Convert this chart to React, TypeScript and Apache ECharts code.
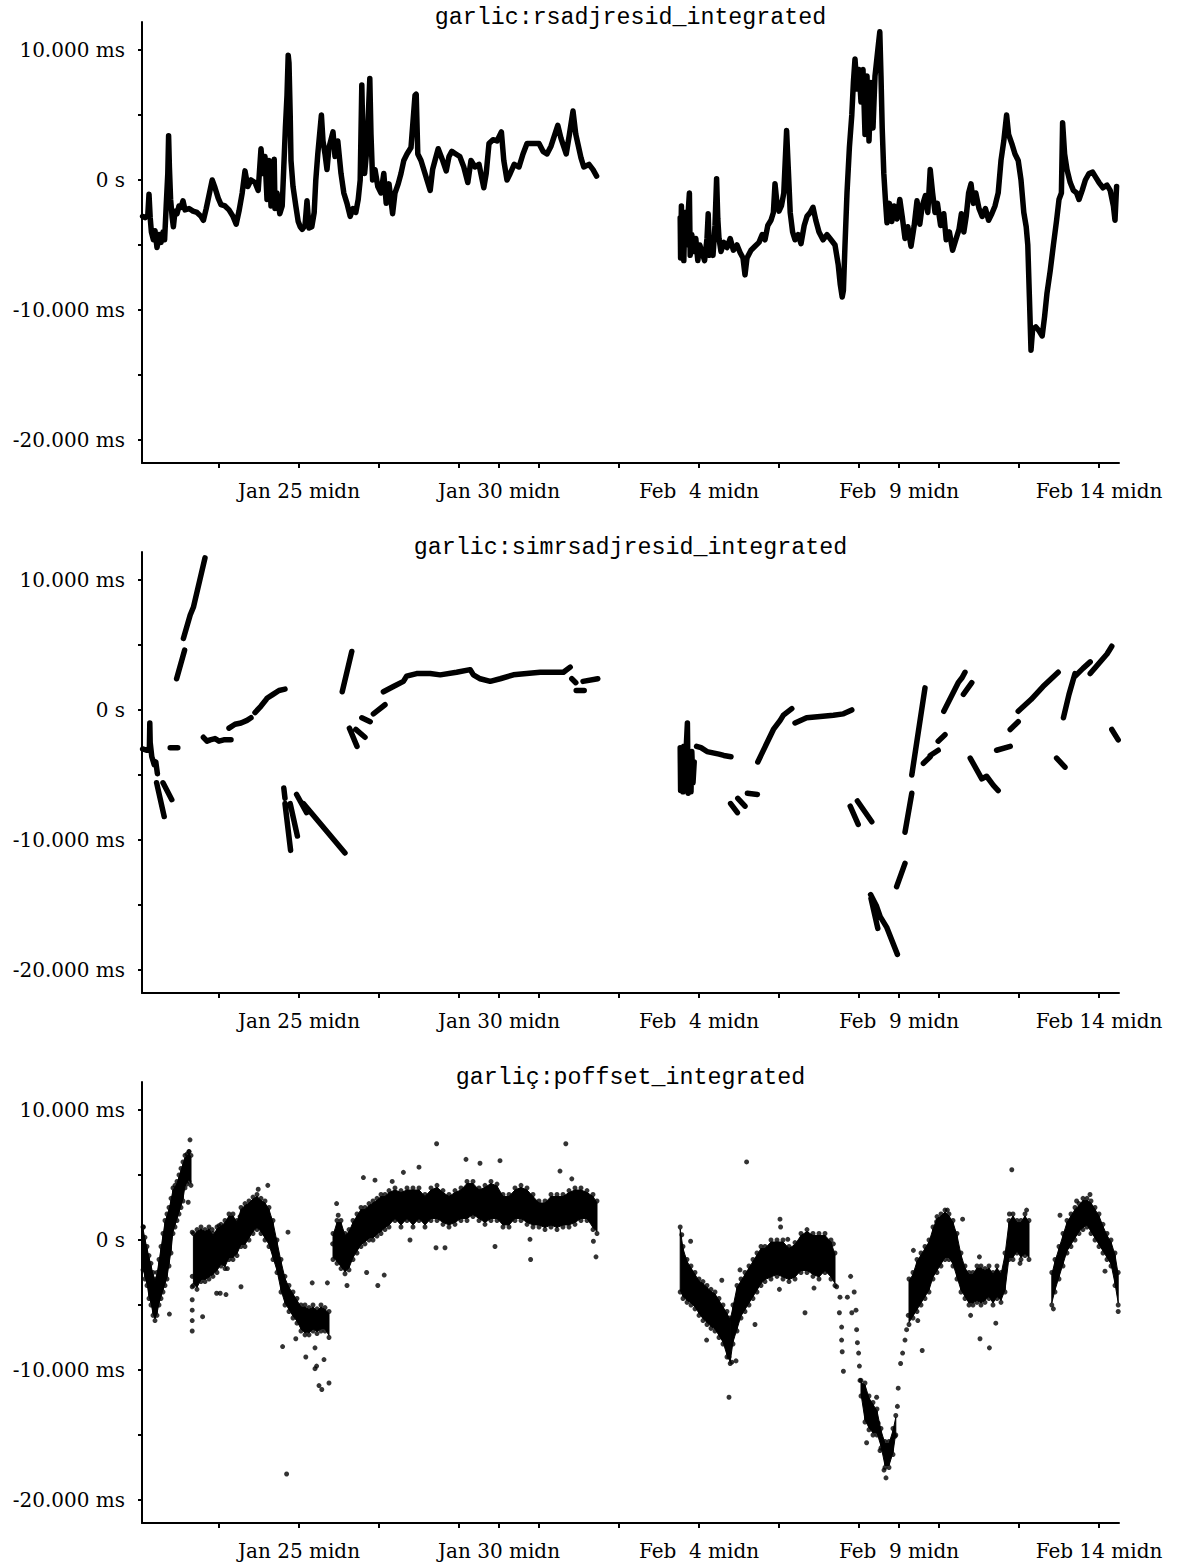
import React, { useEffect, useRef } from "react";
import * as echarts from "echarts";

// ---- Texts and ticks -------------------------------------------------------
const PANEL_TITLES = [
  "garlic:rsadjresid_integrated",
  "garlic:simrsadjresid_integrated",
  "garliç:poffset_integrated",
];
// x unit: days since Jan 21 00:00
const X_TICK_DAYS = [2, 4, 6, 8, 9, 10, 12, 14, 16, 18, 19, 20, 22, 24];
const X_LABEL_DAYS = [4, 9, 14, 19, 24];
const X_LABEL_TEXTS = ["Jan 25 midn", "Jan 30 midn", "Feb  4 midn", "Feb  9 midn", "Feb 14 midn"];
// y unit: milliseconds
const Y_TICK_VALUES = [-20, -15, -10, -5, 0, 5, 10];
const Y_LABEL_VALUES = [-20, -10, 0, 10];
const Y_LABEL_TEXTS = ["-20.000 ms", "-10.000 ms", "0 s", "10.000 ms"];

// ---- Panel 1: garlic:rsadjresid_integrated [day, ms] -----------------------
const rsadjFirst = [
  [0.09,-2.8],[0.15,-2.9],[0.22,-2.7],[0.25,-1.1],[0.28,-2.9],[0.31,-4.0],[0.36,-4.6],[0.40,-3.9],[0.45,-5.2],[0.50,-4.2],
  [0.55,-4.8],[0.60,-4.0],[0.64,-4.6],[0.68,-2.0],[0.72,0.5],[0.74,3.4],[0.76,1.0],[0.79,-1.5],[0.83,-2.9],[0.86,-3.6],
  [0.90,-2.4],[0.95,-2.6],[1.00,-2.0],[1.05,-2.1],[1.10,-1.6],[1.15,-2.3],[1.25,-2.2],[1.35,-2.4],[1.45,-2.5],[1.55,-2.8],
  [1.61,-3.1],[1.68,-2.2],[1.83,0.0],[1.90,-0.6],[1.98,-1.4],[2.05,-1.9],[2.15,-2.0],[2.25,-2.3],[2.35,-2.8],[2.43,-3.4],
  [2.50,-2.4],[2.58,-1.0],[2.65,0.7],[2.72,-0.5],[2.80,0.0],[2.90,-0.2],[2.98,-0.8],[3.05,2.4],[3.10,0.5],[3.15,1.8],
  [3.20,-1.5],[3.25,1.5],[3.30,-2.0],[3.38,1.6],[3.40,-2.2],[3.45,-1.0],[3.52,-2.6],[3.58,-2.0],[3.62,1.0],[3.66,4.0],
  [3.70,6.5],[3.73,9.6],[3.75,9.0],[3.78,5.0],[3.80,1.5],[3.85,-0.5],[3.92,-2.0],[3.98,-3.2],[4.03,-3.6],[4.08,-3.8],
  [4.15,-3.5],[4.20,-1.6],[4.25,-3.7],[4.32,-3.6],[4.38,-2.5],[4.42,0.0],[4.47,2.0],[4.56,5.0],[4.60,3.0],[4.65,2.0],
  [4.70,0.8],[4.75,2.5],[4.85,3.7],[4.90,1.8],[4.97,3.0],[5.05,0.5],[5.12,-1.0],[5.20,-1.8],[5.28,-2.8],[5.35,-2.2],
  [5.42,-2.5],[5.48,-1.5],[5.53,0.0],[5.57,7.3],[5.60,3.0],[5.64,0.5],[5.70,2.5],[5.77,7.8],[5.80,3.5],[5.84,0.0],
  [5.90,0.8],[5.97,-0.5],[6.05,-1.0],[6.12,0.5],[6.18,-1.8],[6.25,-0.3],[6.34,-2.6],[6.40,-1.0],[6.48,-0.3],[6.55,0.5],
  [6.62,1.5],[6.70,2.0],[6.80,2.5],[6.90,6.5],[6.93,6.6],[6.97,2.0],[7.05,1.5],[7.15,0.5],[7.28,-0.8],[7.34,0.8],
  [7.40,1.5],[7.48,2.4],[7.58,1.6],[7.68,0.7],[7.75,1.8],[7.82,2.2],[7.92,2.0],[8.02,1.8],[8.12,1.0],[8.22,-0.2],
  [8.30,1.5],[8.40,1.0],[8.50,1.2],[8.62,-0.6],[8.68,0.5],[8.75,2.8],[8.85,3.1],[8.95,3.0],[9.06,3.7],[9.12,1.5],
  [9.20,0.0],[9.28,0.5],[9.38,1.2],[9.50,1.0],[9.60,2.0],[9.70,2.8],[9.85,2.8],[10.00,2.8],[10.10,2.2],[10.20,2.0],
  [10.30,2.6],[10.47,4.2],[10.55,3.2],[10.68,2.0],[10.76,3.5],[10.85,5.3],[10.92,3.5],[11.05,1.7],[11.12,1.0],[11.25,1.2],
  [11.35,0.8],[11.44,0.3],
];
const rsadjSecond = [
  [13.53,-2.9],[13.54,-6.0],[13.56,-2.0],[13.58,-5.5],[13.60,-3.5],[13.62,-6.2],[13.65,-2.5],[13.68,-5.0],[13.72,-3.0],[13.76,-1.0],
  [13.78,-5.8],[13.82,-4.2],[13.87,-5.5],[13.92,-4.5],[13.97,-6.2],[14.02,-5.0],[14.08,-5.6],[14.14,-6.2],[14.20,-4.5],[14.23,-2.6],
  [14.26,-5.8],[14.30,-4.8],[14.35,-5.8],[14.40,-3.5],[14.44,0.1],[14.47,-3.0],[14.50,-4.5],[14.55,-5.5],[14.62,-4.8],[14.70,-5.2],
  [14.78,-4.5],[14.86,-5.4],[14.95,-5.0],[15.03,-5.6],[15.10,-6.0],[15.15,-7.3],[15.20,-6.0],[15.30,-5.4],[15.40,-5.1],[15.50,-4.8],
  [15.58,-4.2],[15.65,-4.6],[15.72,-3.5],[15.80,-3.1],[15.86,-2.5],[15.90,-0.3],[15.94,-1.5],[16.00,-2.4],[16.06,-2.0],[16.12,-1.0],
  [16.19,3.8],[16.23,1.0],[16.28,-2.5],[16.34,-4.0],[16.40,-4.6],[16.48,-4.2],[16.55,-4.9],[16.63,-3.5],[16.70,-2.8],[16.78,-2.5],
  [16.85,-2.1],[16.92,-3.1],[17.00,-4.0],[17.10,-4.6],[17.20,-4.2],[17.30,-4.6],[17.40,-5.0],[17.48,-6.5],[17.53,-8.0],[17.58,-9.0],
  [17.61,-8.5],[17.65,-5.0],[17.70,-1.0],[17.76,2.5],[17.82,5.0],[17.86,7.5],[17.90,9.3],[17.95,7.0],[18.00,8.5],[18.05,6.0],
  [18.10,8.5],[18.15,3.5],[18.20,8.0],[18.25,3.0],[18.30,7.5],[18.35,4.0],[18.40,8.0],[18.47,10.0],[18.52,11.4],[18.55,8.0],
  [18.58,4.0],[18.62,0.5],[18.66,-1.5],[18.70,-3.3],[18.76,-1.8],[18.82,-3.2],[18.88,-2.0],[18.95,-3.0],[19.02,-1.5],[19.08,-2.8],
  [19.15,-4.5],[19.22,-3.6],[19.30,-5.1],[19.38,-3.5],[19.45,-1.6],[19.52,-3.4],[19.58,-2.0],[19.66,-1.2],[19.72,-2.5],[19.78,0.8],
  [19.84,-1.0],[19.90,-2.5],[19.96,-1.8],[20.04,-3.5],[20.12,-2.6],[20.18,-4.6],[20.26,-4.0],[20.34,-5.4],[20.42,-4.6],[20.50,-3.8],
  [20.56,-2.6],[20.62,-4.0],[20.68,-2.8],[20.74,-1.0],[20.80,-0.3],[20.86,-1.8],[20.92,-1.0],[21.00,-2.2],[21.08,-2.8],[21.16,-2.2],
  [21.24,-3.1],[21.32,-2.6],[21.40,-2.0],[21.48,-1.0],[21.55,1.5],[21.62,3.0],[21.69,5.0],[21.74,3.5],[21.82,2.8],[21.90,2.0],
  [21.98,1.5],[22.05,0.0],[22.12,-2.5],[22.18,-3.6],[22.22,-5.0],[22.26,-9.0],[22.30,-13.1],[22.34,-11.5],[22.42,-11.3],[22.50,-11.6],
  [22.58,-12.0],[22.64,-10.5],[22.70,-8.7],[22.78,-7.0],[22.86,-5.0],[22.94,-3.1],[23.00,-1.5],[23.06,-1.0],[23.09,4.4],[23.14,2.0],
  [23.20,0.8],[23.28,-0.2],[23.36,-0.8],[23.44,-1.0],[23.50,-1.5],[23.58,-0.8],[23.66,0.0],[23.75,0.5],[23.84,0.6],[23.92,0.2],
  [24.00,-0.2],[24.10,-0.6],[24.20,-0.4],[24.28,-0.8],[24.36,-2.0],[24.40,-3.1],[24.44,-0.5],
];

// ---- Panel 2: garlic:simrsadjresid_integrated, separate strokes [day, ms] ---
const simSegments = [
  [[0.09,-3.0],[0.2,-3.1],[0.26,-2.9],[0.27,-1.0],[0.28,-2.5],[0.32,-3.6],[0.38,-4.2],[0.42,-4.0],[0.46,-4.9]],
  [[0.44,-5.6],[0.63,-8.2]],
  [[0.60,-5.6],[0.82,-6.9]],
  [[0.78,-2.9],[0.97,-2.9]],
  [[0.94,2.4],[1.14,4.6]],
  [[1.11,5.5],[1.28,7.3],[1.36,7.9],[1.65,11.7]],
  [[1.61,-2.1],[1.70,-2.4],[1.78,-2.3],[1.90,-2.2],[2.0,-2.4],[2.12,-2.3],[2.30,-2.3]],
  [[2.25,-1.4],[2.40,-1.1],[2.55,-1.0],[2.70,-0.8],[2.80,-0.6]],
  [[2.90,-0.2],[3.05,0.3],[3.18,0.8]],
  [[3.20,0.9],[3.35,1.2],[3.50,1.5],[3.65,1.6]],
  [[3.62,-6.0],[3.65,-6.8]],
  [[3.65,-7.2],[3.79,-10.8]],
  [[3.78,-7.2],[3.96,-9.7]],
  [[3.94,-6.5],[4.19,-7.9]],
  [[4.11,-7.2],[5.15,-11.0]],
  [[5.08,1.4],[5.32,4.5]],
  [[5.26,-1.4],[5.45,-2.8]],
  [[5.42,-1.5],[5.65,-2.1]],
  [[5.57,-0.6],[5.78,-0.9]],
  [[5.86,-0.3],[6.15,0.4]],
  [[6.11,1.4],[6.36,1.8],[6.61,2.2],[6.69,2.6],[6.94,2.8],[7.28,2.8],[7.53,2.7],[7.94,2.9],[8.28,3.1],[8.36,2.7],
   [8.53,2.4],[8.78,2.2],[9.03,2.4],[9.36,2.7],[9.69,2.8],[10.03,2.9],[10.36,2.9],[10.61,2.9],[10.78,3.3]],
  [[10.82,2.4],[10.92,2.1]],
  [[10.93,1.5],[11.13,1.5]],
  [[11.10,2.2],[11.47,2.4]],
  [[13.53,-2.9],[13.54,-6.2],[13.57,-3.0],[13.60,-6.3],[13.62,-2.8],[13.64,-5.5],[13.71,-1.0],[13.73,-6.4],[13.76,-3.5],
   [13.80,-6.3],[13.82,-3.2],[13.85,-5.6],[13.88,-4.0]],
  [[13.94,-2.8],[14.05,-2.9],[14.20,-3.2],[14.35,-3.3],[14.50,-3.4],[14.62,-3.5],[14.80,-3.6]],
  [[14.79,-7.2],[14.96,-7.9]],
  [[14.97,-6.8],[15.15,-7.4]],
  [[15.21,-6.4],[15.46,-6.5]],
  [[15.47,-4.0],[15.86,-1.5],[16.03,-0.8],[16.11,-0.4],[16.32,0.1]],
  [[16.40,-1.0],[16.69,-0.6],[17.03,-0.5],[17.36,-0.4],[17.61,-0.3],[17.82,0.0]],
  [[17.78,-7.4],[17.98,-8.8]],
  [[17.96,-7.0],[18.32,-8.6]],
  [[18.29,-14.2],[18.44,-15.1],[18.53,-15.9],[18.69,-16.7],[18.96,-18.8]],
  [[18.30,-14.5],[18.47,-16.8]],
  [[18.94,-13.6],[19.15,-11.8]],
  [[19.15,-9.4],[19.32,-6.4]],
  [[19.32,-5.0],[19.65,1.7]],
  [[19.61,-4.1],[19.78,-3.6]],
  [[19.78,-3.5],[19.98,-3.1]],
  [[19.98,-2.4],[20.15,-1.9]],
  [[20.12,-0.1],[20.48,2.1],[20.58,2.5],[20.65,2.9]],
  [[20.61,1.2],[20.82,2.1]],
  [[20.78,-3.7],[21.07,-5.3],[21.19,-5.1],[21.36,-5.8],[21.48,-6.2]],
  [[21.44,-3.1],[21.78,-2.8]],
  [[21.78,-1.5],[21.98,-0.9]],
  [[21.98,-0.1],[22.30,0.8],[22.60,1.8],[22.98,2.9]],
  [[22.94,-3.7],[23.15,-4.4]],
  [[23.11,-0.6],[23.25,1.2],[23.40,2.8]],
  [[23.40,2.6],[23.60,3.2],[23.78,3.7]],
  [[23.78,2.8],[24.00,3.6],[24.20,4.3],[24.32,4.9]],
  [[24.32,-1.5],[24.48,-2.3]],
];

// ---- Panel 3: garliç:poffset_integrated -------------------------------------
// dense core of the cloud: [day, low ms, high ms]
const poffBands = [
  [[0.10,-2.3,1.0],[0.15,-3.0,0.2],[0.20,-3.5,-0.5],[0.25,-4.5,-1.2],[0.30,-5.0,-1.8],[0.35,-5.8,-2.5],[0.40,-6.2,-3.0],
   [0.45,-5.8,-2.5],[0.50,-5.0,-1.5],[0.55,-4.5,-0.5],[0.60,-4.0,0.5],[0.65,-3.5,1.5],[0.70,-3.0,2.0],[0.75,-2.0,2.5],
   [0.80,-1.0,3.2],[0.85,0.5,4.0],[0.90,1.0,4.2],[0.95,1.5,4.5],[1.00,2.0,5.0],[1.05,2.5,5.5],[1.10,3.0,6.0],[1.15,4.0,6.5],
   [1.20,4.3,6.6],[1.25,4.5,6.8],[1.30,4.2,6.5]],
  [[1.36,-3.5,0.5],[1.45,-3.8,0.8],[1.55,-3.2,1.0],[1.65,-3.2,0.8],[1.75,-3.0,1.0],[1.85,-2.8,0.5],[1.95,-2.5,1.0],
   [2.05,-2.0,1.2],[2.15,-2.2,1.5],[2.25,-1.5,2.0],[2.35,-1.5,2.0],[2.45,-1.2,1.5],[2.55,-0.5,2.5],[2.65,-0.5,2.8],
   [2.75,0.0,3.0],[2.85,0.5,3.3],[2.95,0.8,3.5],[3.05,0.5,3.2],[3.15,0.0,3.0],[3.25,-0.5,2.5],[3.35,-1.5,1.5],
   [3.45,-2.5,0.0],[3.55,-4.0,-1.5],[3.65,-5.0,-2.8],[3.75,-5.5,-3.5],[3.85,-6.0,-4.0],[3.95,-6.4,-4.5],[4.05,-7.0,-5.0],
   [4.15,-7.3,-5.0],[4.25,-7.3,-5.2],[4.35,-7.0,-5.0],[4.45,-7.2,-5.3],[4.55,-7.0,-5.0],[4.65,-7.0,-5.2],[4.75,-7.5,-5.5]],
  [[4.85,-1.5,0.5],[4.95,-1.8,1.5],[5.05,-2.2,1.5],[5.15,-2.6,0.5],[5.25,-2.3,0.8],[5.35,-1.5,1.5],[5.45,-1.0,2.0],
   [5.55,-0.5,2.5],[5.65,-0.3,2.5],[5.75,0.0,2.8],[5.85,0.0,3.0],[5.95,0.3,3.2],[6.05,0.5,3.5],[6.15,0.8,3.5],
   [6.25,1.0,3.8],[6.40,1.5,4.0],[6.55,1.0,3.8],[6.70,1.5,4.0],[6.85,1.0,4.0],[7.00,1.5,4.0],[7.15,1.0,3.5],
   [7.30,1.5,4.0],[7.45,1.5,4.2],[7.60,1.2,3.8],[7.75,1.0,3.5],[7.90,1.2,3.8],[8.05,1.5,4.0],[8.20,1.5,4.5],
   [8.35,1.8,4.5],[8.50,1.5,4.0],[8.65,1.2,4.2],[8.80,1.5,4.5],[8.95,1.5,4.3],[9.10,1.0,3.5],[9.25,1.0,3.5],
   [9.40,1.5,4.0],[9.55,1.5,4.2],[9.70,1.2,4.0],[9.85,1.0,3.5],[10.00,1.0,3.0],[10.15,0.8,3.0],[10.30,1.0,3.5],
   [10.45,0.8,3.5],[10.60,1.0,3.5],[10.75,1.0,3.8],[10.90,1.2,4.0],[11.05,1.5,4.0],[11.20,1.5,3.8],[11.35,0.8,3.5],
   [11.45,0.5,3.0]],
  [[13.53,-4.0,1.0],[13.60,-4.5,-0.5],[13.70,-4.8,-1.5],[13.80,-5.0,-2.0],[13.90,-5.3,-2.5],[14.00,-5.8,-3.0],
   [14.10,-6.2,-3.2],[14.20,-6.5,-3.5],[14.30,-6.8,-3.8],[14.40,-7.0,-4.0],[14.50,-7.5,-4.5],[14.60,-8.0,-5.0],
   [14.70,-9.0,-5.5],[14.78,-9.5,-6.0],[14.85,-8.0,-5.0],[14.95,-7.0,-3.5],[15.05,-6.0,-3.0],[15.15,-5.5,-2.5],
   [15.25,-5.0,-2.0],[15.35,-4.5,-1.5],[15.45,-4.0,-1.0],[15.55,-3.5,-0.5],[15.65,-3.2,-0.5],[15.80,-3.0,0.0],
   [15.95,-2.8,0.0],[16.10,-3.0,0.0],[16.25,-3.2,-0.5],[16.40,-3.0,-0.2],[16.55,-2.5,0.5],[16.70,-2.5,0.8],
   [16.85,-2.8,0.5],[17.00,-3.0,0.5],[17.15,-2.5,0.5],[17.30,-3.0,0.0],[17.40,-3.5,-1.0]],
  [[18.05,-12.0,-10.8],[18.15,-14.0,-11.0],[18.25,-14.6,-12.0],[18.35,-15.0,-12.5],[18.45,-15.0,-13.0],
   [18.55,-16.0,-14.5],[18.65,-17.5,-15.5],[18.75,-17.5,-15.5],[18.85,-16.5,-14.5],[18.92,-15.0,-13.5]],
  [[19.25,-6.5,-3.0],[19.35,-6.0,-2.5],[19.45,-5.5,-1.5],[19.55,-5.0,-1.0],[19.65,-4.5,-0.5],[19.75,-4.0,0.0],
   [19.85,-3.0,1.0],[19.95,-2.5,1.8],[20.05,-2.0,2.0],[20.15,-1.5,2.3],[20.25,-1.5,2.0],[20.35,-2.0,1.5],
   [20.45,-3.0,0.5],[20.55,-4.0,-1.0],[20.65,-4.5,-2.0],[20.75,-5.0,-2.5],[20.85,-5.0,-2.5],[20.95,-4.8,-2.0],
   [21.05,-5.0,-2.0],[21.15,-4.8,-2.2],[21.25,-4.5,-2.0],[21.35,-5.0,-2.5],[21.45,-4.5,-2.0],[21.55,-4.8,-2.5],
   [21.65,-4.0,-1.0],[21.75,-1.5,1.5],[21.85,-1.5,2.0],[21.95,-1.0,1.5],[22.05,-1.5,1.5],[22.15,-1.2,2.0],[22.25,-1.5,1.5]],
  [[22.82,-5.0,-2.5],[22.90,-4.0,-1.5],[23.00,-3.0,-0.5],[23.10,-2.0,0.5],[23.20,-1.0,1.5],[23.30,-0.5,2.0],
   [23.40,0.0,2.5],[23.50,0.5,2.8],[23.60,0.8,3.2],[23.70,1.0,3.2],[23.80,0.5,3.0],[23.90,0.0,2.5],[24.00,-0.5,2.0],
   [24.10,-1.0,1.2],[24.20,-1.5,0.5],[24.30,-2.0,0.0],[24.40,-3.5,-1.0],[24.48,-5.0,-2.5]],
];
// isolated points around the core [day, ms]
const poffDots = [
  [0.11,1.0],[0.76,-5.7],[1.275,7.7],[1.25,6.8],[1.23,2.9],[1.33,-2.8],[1.33,-3.6],[1.33,-4.6],[1.33,-5.4],[1.33,-6.2],
  [1.33,-7.0],[1.33,0.6],[1.59,-5.9],[1.94,-4.1],[2.03,-4.1],[2.175,-4.2],[2.21,-2.2],[2.55,-3.6],[3.22,4.2],[2.98,3.9],
  [2.525,1.8],[2.0,1.1],[1.83,0.8],[3.725,0.6],[3.59,-8.2],[3.92,-7.6],[4.17,-9.0],[4.4,-9.9],[4.44,-9.7],[4.5,-11.2],
  [4.57,-11.5],[4.75,-11.0],[4.625,-9.2],[4.4,-8.3],[4.33,-3.3],[4.71,-3.3],[3.69,-18.0],[4.84,-0.3],[5.2,-3.5],[5.69,-2.5],
  [5.97,-3.5],[6.13,-2.7],[5.61,4.8],[5.9,4.6],[6.33,4.5],[6.61,5.2],[7.0,5.6],[7.44,7.4],[8.175,6.2],[8.525,5.9],
  [9.025,6.1],[8.9,-0.5],[9.79,-1.5],[9.775,0.05],[7.425,-0.6],[7.65,-0.6],[6.775,0.0],[10.67,7.4],[10.525,5.3],[10.82,4.7],
  [11.425,-1.3],[11.36,-0.1],[4.94,2.8],[4.98,1.9],
  [13.57,0.4],[13.79,-0.1],[15.19,6.0],[14.75,-12.1],[14.82,-9.4],[14.925,-9.3],[14.19,-7.7],[15.4,-6.5],[15.025,-2.3],
  [16.025,1.6],[16.04,1.0],[16.22,0.05],[16.01,-3.8],[16.65,-5.6],[16.875,-3.7],[21.82,5.4],[21.025,-7.6],[21.26,-8.3],
  [21.42,-6.4],[19.58,-8.5],[14.75,-9.0],[14.57,-3.1],[17.36,-0.3],[17.44,-3.6],[17.525,-4.4],[17.51,-5.6],[17.565,-6.7],
  [17.565,-7.7],[17.58,-8.6],[17.61,-10.1],[17.71,-4.4],[17.79,-2.8],[17.82,-5.6],[17.88,-4.0],[17.925,-5.4],[17.94,-6.9],
  [17.96,-7.9],[17.99,-8.7],[18.01,-9.7],[18.025,-10.8],[18.19,-15.6],[18.44,-12.1],[18.48,-14.1],[18.525,-16.2],
  [18.625,-17.7],[18.675,-18.3],[18.775,-16.4],[18.9,-15.1],[18.96,-12.8],[18.98,-11.4],[19.04,-9.5],[19.09,-8.7],
  [19.15,-7.7],[19.19,-6.9],[19.23,-5.8],[19.36,-0.8],[19.47,-6.2],[19.94,1.4],[20.21,2.3],[20.59,1.6],[20.79,-5.8],
  [21.01,-1.3],[21.76,2.0],[22.19,2.3],[22.025,-1.8],[22.86,-5.3],[23.025,1.9],[23.44,3.0],[23.775,3.5],[24.15,-2.4],
  [24.48,-5.5],
];

// ---- Layout ------------------------------------------------------------------
const GRID_TOPS = [22, 552, 1082];
const GRID_LEFT = 142;
const GRID_WIDTH = 977;
const GRID_HEIGHT = 441;
const X_MIN = 0.075;
const X_MAX = 24.5;
const Y_MIN = -21.77;
const Y_MAX = 12.15;

const SERIF = "DejaVu Serif";
const MONO = "Liberation Mono";

function joinSegments(segs: number[][][]) {
  const out: any[] = [];
  segs.forEach((s, i) => {
    if (i > 0) out.push(["-", "-"]);
    s.forEach((p) => out.push(p));
  });
  return out;
}

function bandQuads(bands: number[][][]) {
  const quads: number[][] = [];
  bands.forEach((b) => {
    for (let i = 0; i < b.length - 1; i++) {
      quads.push([b[i][0], b[i][1], b[i][2], b[i + 1][0], b[i + 1][1], b[i + 1][2]]);
    }
  });
  return quads;
}

function bandEdges(bands: number[][][]) {
  const pts: number[][] = [];
  bands.forEach((b) => b.forEach((r) => { pts.push([r[0], r[1]]); pts.push([r[0], r[2]]); }));
  return pts;
}

function labelFor(values: number[], texts: string[], v: number) {
  for (let i = 0; i < values.length; i++) if (Math.abs(values[i] - v) < 1e-6) return texts[i];
  return "";
}

function buildOption() {
  const axisLineStyle = { color: "#000", width: 2 };
  const grid = GRID_TOPS.map((t) => ({ left: GRID_LEFT, top: t, width: GRID_WIDTH, height: GRID_HEIGHT }));
  const xAxis = GRID_TOPS.map((_, i) => ({
    gridIndex: i,
    type: "value",
    min: X_MIN,
    max: X_MAX,
    axisLine: { show: true, onZero: false, lineStyle: axisLineStyle },
    axisTick: { show: true, customValues: X_TICK_DAYS, length: 5, lineStyle: axisLineStyle },
    axisLabel: {
      show: true,
      customValues: X_LABEL_DAYS,
      formatter: (v: number) => labelFor(X_LABEL_DAYS, X_LABEL_TEXTS, v),
      fontFamily: SERIF,
      fontSize: 20,
      color: "#000",
      margin: 18,
    },
    splitLine: { show: false },
  }));
  const yAxis = GRID_TOPS.map((_, i) => ({
    gridIndex: i,
    type: "value",
    min: Y_MIN,
    max: Y_MAX,
    axisLine: { show: true, onZero: false, lineStyle: axisLineStyle },
    axisTick: { show: true, customValues: Y_TICK_VALUES, length: 4, lineStyle: axisLineStyle },
    axisLabel: {
      show: true,
      customValues: Y_LABEL_VALUES,
      formatter: (v: number) => labelFor(Y_LABEL_VALUES, Y_LABEL_TEXTS, v),
      fontFamily: SERIF,
      fontSize: 20,
      color: "#000",
      margin: 17,
    },
    splitLine: { show: false },
  }));

  const series: any[] = [
    {
      type: "line",
      xAxisIndex: 0,
      yAxisIndex: 0,
      data: joinSegments([rsadjFirst, rsadjSecond]),
      symbol: "none",
      connectNulls: false,
      lineStyle: { color: "#000", width: 5.5, join: "round", cap: "round" },
      silent: true,
    },
    {
      type: "line",
      xAxisIndex: 1,
      yAxisIndex: 1,
      data: joinSegments(simSegments),
      symbol: "none",
      connectNulls: false,
      lineStyle: { color: "#000", width: 5.5, join: "round", cap: "round" },
      silent: true,
    },
    {
      type: "custom",
      xAxisIndex: 2,
      yAxisIndex: 2,
      data: bandQuads(poffBands),
      encode: { x: [0, 3], y: [1, 2, 4, 5] },
      clip: true,
      silent: true,
      renderItem: (params: any, api: any) => {
        const a = api.coord([api.value(0), api.value(1)]);
        const b = api.coord([api.value(3), api.value(4)]);
        const c = api.coord([api.value(3), api.value(5)]);
        const d = api.coord([api.value(0), api.value(2)]);
        // keep a thin fringe so the edge dots give the cloud its ragged border
        const inset = 2;
        return {
          type: "polygon",
          shape: { points: [[a[0], a[1] - inset], [b[0], b[1] - inset], [c[0], c[1] + inset], [d[0], d[1] + inset]] },
          style: { fill: "#000", stroke: "#000", lineWidth: 1 },
        };
      },
    },
    {
      type: "scatter",
      xAxisIndex: 2,
      yAxisIndex: 2,
      data: bandEdges(poffBands),
      symbol: "circle",
      symbolSize: 5,
      itemStyle: { color: "#000" },
      silent: true,
    },
    {
      type: "scatter",
      xAxisIndex: 2,
      yAxisIndex: 2,
      data: poffDots,
      symbol: "circle",
      symbolSize: 5,
      itemStyle: { color: "#000" },
      silent: true,
    },
  ];

  const graphic = PANEL_TITLES.map((t, i) => ({
    type: "text",
    x: GRID_LEFT + GRID_WIDTH / 2,
    y: GRID_TOPS[i] - 4,
    style: {
      text: t,
      fill: "#000",
      font: `23.3px "${MONO}"`,
      textAlign: "center",
      textVerticalAlign: "middle",
    },
    silent: true,
  }));

  return {
    animation: false,
    backgroundColor: "#fff",
    grid,
    xAxis,
    yAxis,
    series,
    graphic,
  };
}

export default function App() {
  const ref = useRef<HTMLDivElement>(null);
  useEffect(() => {
    if (!ref.current) return;
    const chart = echarts.init(ref.current, null, { renderer: "svg", width: 1179, height: 1568 });
    chart.setOption(buildOption() as any);
    return () => chart.dispose();
  }, []);
  return (
    <div
      ref={ref}
      style={{ position: "absolute", left: 0, top: 0, width: 1179, height: 1568, background: "#fff" }}
    />
  );
}
